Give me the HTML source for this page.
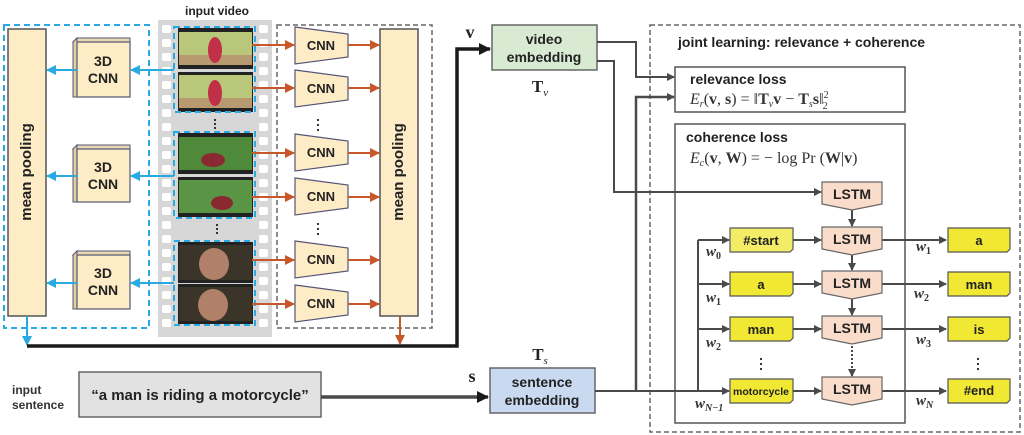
<!DOCTYPE html>
<html><head><meta charset="utf-8"><style>
html,body{margin:0;padding:0;background:#fff;}
svg{display:block;font-family:"Liberation Sans",sans-serif;}
.b{font-weight:bold;}
</style></head><body>
<svg width="1024" height="435" viewBox="0 0 1024 435" xmlns="http://www.w3.org/2000/svg">
<defs>
<marker id="ag" markerWidth="8" markerHeight="8" refX="7" refY="4" orient="auto" markerUnits="userSpaceOnUse"><path d="M0,0 L8,4 L0,8 Z" fill="#4a4a4a"/></marker>
<marker id="ak" markerWidth="12" markerHeight="12" refX="11" refY="6" orient="auto" markerUnits="userSpaceOnUse"><path d="M0,0 L12,6 L0,12 Z" fill="#1a1a1a"/></marker>
<marker id="ao" markerWidth="10" markerHeight="10" refX="9" refY="5" orient="auto" markerUnits="userSpaceOnUse"><path d="M0,0 L10,5 L0,10 Z" fill="#c8582a"/></marker>
<marker id="ac" markerWidth="10" markerHeight="10" refX="9" refY="5" orient="auto" markerUnits="userSpaceOnUse"><path d="M0,0 L10,5 L0,10 Z" fill="#2aaae2"/></marker>
</defs>

<!-- left cyan dashed box -->
<rect x="4" y="25" width="145" height="303" fill="none" stroke="#2aaae2" stroke-width="2" stroke-dasharray="6,4"/>
<rect x="8" y="29" width="38" height="287" fill="#fdecc6" stroke="#555" stroke-width="1.5"/>
<text x="27" y="172" transform="rotate(-90 27 172)" text-anchor="middle" dominant-baseline="middle" class="b" font-size="15" fill="#222">mean pooling</text>

<!-- 3D CNN boxes -->
<g font-size="14" class="b" fill="#222" text-anchor="middle">
<g><path d="M73,42 L77,38 L130,38 L130,42 Z" fill="#e8d9b0" stroke="#557" stroke-width="1"/><path d="M73,42 L77,38 L77,97 L73,97 Z" fill="#e3cf9c" stroke="#557" stroke-width="1"/><rect x="77" y="42" width="53" height="55" fill="#fdecc6" stroke="#557" stroke-width="1.2"/><text x="103" y="66">3D</text><text x="103" y="83">CNN</text></g>
<g><path d="M73,149 L77,145 L130,145 L130,149 Z" fill="#e8d9b0" stroke="#557" stroke-width="1"/><path d="M73,149 L77,145 L77,202 L73,202 Z" fill="#e3cf9c" stroke="#557" stroke-width="1"/><rect x="77" y="149" width="53" height="53" fill="#fdecc6" stroke="#557" stroke-width="1.2"/><text x="103" y="172">3D</text><text x="103" y="189">CNN</text></g>
<g><path d="M73,255 L77,251 L130,251 L130,255 Z" fill="#e8d9b0" stroke="#557" stroke-width="1"/><path d="M73,255 L77,251 L77,309 L73,309 Z" fill="#e3cf9c" stroke="#557" stroke-width="1"/><rect x="77" y="255" width="53" height="54" fill="#fdecc6" stroke="#557" stroke-width="1.2"/><text x="103" y="278">3D</text><text x="103" y="295">CNN</text></g>
</g>

<!-- film strip -->
<text x="217" y="15" text-anchor="middle" class="b" font-size="12" fill="#222">input video</text>
<rect x="158" y="20" width="114" height="317" fill="#d7d7d7"/>
<g fill="#fff">
<rect x="162" y="25" width="9" height="8" rx="2"/><rect x="162" y="39" width="9" height="8" rx="2"/><rect x="162" y="53" width="9" height="8" rx="2"/><rect x="162" y="67" width="9" height="8" rx="2"/><rect x="162" y="81" width="9" height="8" rx="2"/><rect x="162" y="95" width="9" height="8" rx="2"/><rect x="162" y="109" width="9" height="8" rx="2"/><rect x="162" y="123" width="9" height="8" rx="2"/><rect x="162" y="137" width="9" height="8" rx="2"/><rect x="162" y="151" width="9" height="8" rx="2"/><rect x="162" y="165" width="9" height="8" rx="2"/><rect x="162" y="179" width="9" height="8" rx="2"/><rect x="162" y="193" width="9" height="8" rx="2"/><rect x="162" y="207" width="9" height="8" rx="2"/><rect x="162" y="221" width="9" height="8" rx="2"/><rect x="162" y="235" width="9" height="8" rx="2"/><rect x="162" y="249" width="9" height="8" rx="2"/><rect x="162" y="263" width="9" height="8" rx="2"/><rect x="162" y="277" width="9" height="8" rx="2"/><rect x="162" y="291" width="9" height="8" rx="2"/><rect x="162" y="305" width="9" height="8" rx="2"/><rect x="162" y="319" width="9" height="8" rx="2"/>
<rect x="259" y="25" width="9" height="8" rx="2"/><rect x="259" y="39" width="9" height="8" rx="2"/><rect x="259" y="53" width="9" height="8" rx="2"/><rect x="259" y="67" width="9" height="8" rx="2"/><rect x="259" y="81" width="9" height="8" rx="2"/><rect x="259" y="95" width="9" height="8" rx="2"/><rect x="259" y="109" width="9" height="8" rx="2"/><rect x="259" y="123" width="9" height="8" rx="2"/><rect x="259" y="137" width="9" height="8" rx="2"/><rect x="259" y="151" width="9" height="8" rx="2"/><rect x="259" y="165" width="9" height="8" rx="2"/><rect x="259" y="179" width="9" height="8" rx="2"/><rect x="259" y="193" width="9" height="8" rx="2"/><rect x="259" y="207" width="9" height="8" rx="2"/><rect x="259" y="221" width="9" height="8" rx="2"/><rect x="259" y="235" width="9" height="8" rx="2"/><rect x="259" y="249" width="9" height="8" rx="2"/><rect x="259" y="263" width="9" height="8" rx="2"/><rect x="259" y="277" width="9" height="8" rx="2"/><rect x="259" y="291" width="9" height="8" rx="2"/><rect x="259" y="305" width="9" height="8" rx="2"/><rect x="259" y="319" width="9" height="8" rx="2"/>
</g>
<!-- frames -->
<rect x="178" y="28" width="75" height="41" fill="#222"/><rect x="179" y="32" width="73" height="33" fill="#b8c77a"/><rect x="179" y="55" width="73" height="10" fill="#b89a70"/><ellipse cx="215" cy="50" rx="7" ry="13" fill="#c03048"/>
<rect x="178" y="72" width="75" height="40" fill="#222"/><rect x="179" y="75" width="73" height="33" fill="#b8c77a"/><rect x="179" y="98" width="73" height="10" fill="#b89a70"/><ellipse cx="215" cy="93" rx="7" ry="13" fill="#c03048"/>
<rect x="178" y="133" width="75" height="41" fill="#222"/><rect x="179" y="137" width="73" height="33" fill="#4f8a3a"/><ellipse cx="213" cy="160" rx="12" ry="7" fill="#8a2a30"/>
<rect x="178" y="177" width="75" height="40" fill="#222"/><rect x="179" y="180" width="73" height="33" fill="#5a9445"/><ellipse cx="222" cy="203" rx="11" ry="7" fill="#8a2a30"/>
<rect x="178" y="242" width="75" height="41" fill="#222"/><rect x="179" y="245" width="73" height="35" fill="#3a3528"/><ellipse cx="214" cy="264" rx="15" ry="16" fill="#b08068"/>
<rect x="178" y="284" width="75" height="40" fill="#222"/><rect x="179" y="287" width="73" height="34" fill="#3a3528"/><ellipse cx="213" cy="305" rx="15" ry="16" fill="#b08068"/>
<g fill="none" stroke="#2aaae2" stroke-width="2" stroke-dasharray="6,4">
<rect x="174" y="27" width="81" height="85"/><rect x="174" y="132" width="81" height="86"/><rect x="174" y="241" width="81" height="84"/>
</g>
<g fill="#222"><circle cx="215" cy="120" r="1.1"/><circle cx="215" cy="124" r="1.1"/><circle cx="215" cy="128" r="1.1"/><circle cx="217" cy="225" r="1.1"/><circle cx="217" cy="229" r="1.1"/><circle cx="217" cy="233" r="1.1"/></g>

<!-- cyan arrows -->
<g stroke="#2aaae2" stroke-width="2" marker-end="url(#ac)">
<line x1="174" y1="70" x2="131" y2="70"/><line x1="174" y1="176" x2="131" y2="176"/><line x1="174" y1="283" x2="131" y2="283"/>
<line x1="77" y1="70" x2="47" y2="70"/><line x1="77" y1="176" x2="47" y2="176"/><line x1="77" y1="283" x2="47" y2="283"/>
<line x1="27" y1="316" x2="27" y2="345"/>
</g>

<!-- right gray dashed box -->
<rect x="277" y="25" width="155" height="303" fill="none" stroke="#666" stroke-width="1.5" stroke-dasharray="5,3"/>
<g font-size="13" class="b" fill="#222" text-anchor="middle">
<path d="M295,27 L348,34 L348,57 L295,64 Z" fill="#fdecc6" stroke="#557" stroke-width="1.2"/><text x="321" y="50">CNN</text>
<path d="M295,70 L348,77 L348,100 L295,107 Z" fill="#fdecc6" stroke="#557" stroke-width="1.2"/><text x="321" y="93">CNN</text>
<path d="M295,134 L348,141 L348,164 L295,171 Z" fill="#fdecc6" stroke="#557" stroke-width="1.2"/><text x="321" y="157">CNN</text>
<path d="M295,178 L348,185 L348,208 L295,215 Z" fill="#fdecc6" stroke="#557" stroke-width="1.2"/><text x="321" y="201">CNN</text>
<path d="M295,241 L348,248 L348,271 L295,278 Z" fill="#fdecc6" stroke="#557" stroke-width="1.2"/><text x="321" y="264">CNN</text>
<path d="M295,285 L348,292 L348,315 L295,322 Z" fill="#fdecc6" stroke="#557" stroke-width="1.2"/><text x="321" y="308">CNN</text>
</g>
<g fill="#222"><circle cx="318" cy="120" r="1.1"/><circle cx="318" cy="125" r="1.1"/><circle cx="318" cy="130" r="1.1"/><circle cx="318" cy="224" r="1.1"/><circle cx="318" cy="229" r="1.1"/><circle cx="318" cy="234" r="1.1"/></g>
<rect x="380" y="29" width="38" height="287" fill="#fdecc6" stroke="#555" stroke-width="1.5"/>
<text x="399" y="172" transform="rotate(-90 399 172)" text-anchor="middle" dominant-baseline="middle" class="b" font-size="15" fill="#222">mean pooling</text>
<g stroke="#c8582a" stroke-width="2" marker-end="url(#ao)">
<line x1="252" y1="45" x2="294" y2="45"/><line x1="252" y1="88" x2="294" y2="88"/><line x1="252" y1="153" x2="294" y2="153"/><line x1="252" y1="197" x2="294" y2="197"/><line x1="252" y1="260" x2="294" y2="260"/><line x1="252" y1="304" x2="294" y2="304"/>
<line x1="348" y1="45" x2="379" y2="45"/><line x1="348" y1="88" x2="379" y2="88"/><line x1="348" y1="153" x2="379" y2="153"/><line x1="348" y1="197" x2="379" y2="197"/><line x1="348" y1="260" x2="379" y2="260"/><line x1="348" y1="304" x2="379" y2="304"/>
<line x1="400" y1="316" x2="400" y2="344"/>
</g>

<!-- black thick path -->
<path d="M27,346 L457,346 L457,49 L490,49" fill="none" stroke="#1a1a1a" stroke-width="3.5" marker-end="url(#ak)"/>
<text x="470" y="38" font-family="Liberation Serif" font-weight="bold" font-size="18" fill="#222" text-anchor="middle">v</text>

<!-- embeddings -->
<rect x="492" y="25" width="105" height="45" fill="#d9ead3" stroke="#666" stroke-width="1.5"/>
<text x="544" y="44" text-anchor="middle" class="b" font-size="14" fill="#222">video</text>
<text x="544" y="62" text-anchor="middle" class="b" font-size="14" fill="#222">embedding</text>
<text x="540" y="92" font-family="Liberation Serif" font-weight="bold" font-size="17" fill="#222" text-anchor="middle">T<tspan font-size="11" font-style="italic" font-weight="normal" dy="4">v</tspan></text>
<rect x="490" y="368" width="105" height="45" fill="#c9daf0" stroke="#666" stroke-width="1.5"/>
<text x="542" y="387" text-anchor="middle" class="b" font-size="14" fill="#222">sentence</text>
<text x="542" y="405" text-anchor="middle" class="b" font-size="14" fill="#222">embedding</text>
<text x="540" y="360" font-family="Liberation Serif" font-weight="bold" font-size="17" fill="#222" text-anchor="middle">T<tspan font-size="11" font-style="italic" font-weight="normal" dy="4">s</tspan></text>
<text x="472" y="382" font-family="Liberation Serif" font-weight="bold" font-size="18" fill="#222" text-anchor="middle">s</text>

<!-- input sentence -->
<text x="12" y="394" font-size="12" class="b" fill="#333">input</text>
<text x="12" y="409" font-size="12" class="b" fill="#333">sentence</text>
<rect x="79" y="372" width="242" height="45" fill="#e2e2e2" stroke="#666" stroke-width="1.5"/>
<text x="200" y="400" text-anchor="middle" class="b" font-size="15" fill="#222">“a man is riding a motorcycle”</text>
<line x1="321" y1="397" x2="488" y2="397" stroke="#4a4a4a" stroke-width="3.5" marker-end="url(#ak)"/>

<!-- joint box -->
<rect x="650" y="25" width="370" height="407" fill="none" stroke="#666" stroke-width="1.5" stroke-dasharray="5,3"/>
<text x="678" y="47" class="b" font-size="14" fill="#222">joint learning: relevance + coherence</text>
<rect x="675" y="67" width="230" height="45" fill="#fff" stroke="#555" stroke-width="1.5"/>
<text x="690" y="84" class="b" font-size="14" fill="#222">relevance loss</text>
<text x="690" y="104" font-family="Liberation Serif" font-size="16" fill="#333"><tspan font-style="italic">E</tspan><tspan font-size="10" font-style="italic" dy="3">r</tspan><tspan dy="-3">(</tspan><tspan font-weight="bold">v</tspan>, <tspan font-weight="bold">s</tspan>) = ‖<tspan font-weight="bold">T</tspan><tspan font-size="10" font-style="italic" dy="3">v</tspan><tspan font-weight="bold" dy="-3">v</tspan> − <tspan font-weight="bold">T</tspan><tspan font-size="10" font-style="italic" dy="3">s</tspan><tspan font-weight="bold" dy="-3">s</tspan>‖<tspan font-size="10" dy="-6">2</tspan><tspan font-size="10" dx="-6" dy="11">2</tspan></text>

<rect x="675" y="124" width="230" height="299" fill="none" stroke="#555" stroke-width="1.5"/>
<text x="686" y="142" class="b" font-size="14" fill="#222">coherence loss</text>
<text x="690" y="163" font-family="Liberation Serif" font-size="16" fill="#333"><tspan font-style="italic">E</tspan><tspan font-size="10" font-style="italic" dy="3">c</tspan><tspan dy="-3">(</tspan><tspan font-weight="bold">v</tspan>, <tspan font-weight="bold">W</tspan>) = − log Pr (<tspan font-weight="bold">W</tspan>|<tspan font-weight="bold">v</tspan>)</text>

<!-- connectors from embeddings -->
<g fill="none" stroke="#4a4a4a" stroke-width="2">
<path d="M597,42 L636,42 L636,77 L674,77" marker-end="url(#ag)"/>
<path d="M597,61 L614,61 L614,192 L821,192" marker-end="url(#ag)"/>
<path d="M595,391 L698,391"/>
<path d="M636,391 L636,97 L674,97" stroke-width="2.5" marker-end="url(#ag)"/>
<path d="M698,391 L698,240"/>
<path d="M698,240 L729,240" marker-end="url(#ag)"/>
<path d="M698,284 L729,284" marker-end="url(#ag)"/>
<path d="M698,329 L729,329" marker-end="url(#ag)"/>
<path d="M698,391 L729,391" marker-end="url(#ag)"/>
<path d="M793,240 L821,240" marker-end="url(#ag)"/>
<path d="M793,284 L821,284" marker-end="url(#ag)"/>
<path d="M793,329 L821,329" marker-end="url(#ag)"/>
<path d="M793,391 L821,391" marker-end="url(#ag)"/>
<path d="M882,240 L946,240" marker-end="url(#ag)"/>
<path d="M882,284 L946,284" marker-end="url(#ag)"/>
<path d="M882,329 L946,329" marker-end="url(#ag)"/>
<path d="M882,391 L946,391" marker-end="url(#ag)"/>
<path d="M852,208 L852,226" marker-end="url(#ag)"/>
<path d="M852,253 L852,270" marker-end="url(#ag)"/>
<path d="M852,297 L852,315" marker-end="url(#ag)"/>
<path d="M852,342 L852,376" stroke-dasharray="2,2" marker-end="url(#ag)"/>
</g>

<!-- LSTMs -->
<g font-size="14" class="b" fill="#222" text-anchor="middle">
<path d="M822,182 L882,182 L882,204 L852,210 L822,204 Z" fill="#fadccb" stroke="#666" stroke-width="1.2"/><text x="852" y="199">LSTM</text>
<path d="M822,227 L882,227 L882,249 L852,255 L822,249 Z" fill="#fadccb" stroke="#666" stroke-width="1.2"/><text x="852" y="244">LSTM</text>
<path d="M822,271 L882,271 L882,293 L852,299 L822,293 Z" fill="#fadccb" stroke="#666" stroke-width="1.2"/><text x="852" y="288">LSTM</text>
<path d="M822,316 L882,316 L882,338 L852,344 L822,338 Z" fill="#fadccb" stroke="#666" stroke-width="1.2"/><text x="852" y="333">LSTM</text>
<path d="M822,377 L882,377 L882,399 L852,405 L822,399 Z" fill="#fadccb" stroke="#666" stroke-width="1.2"/><text x="852" y="394">LSTM</text>
</g>

<!-- word boxes -->
<g font-size="13" class="b" fill="#222" text-anchor="middle" stroke="#555" stroke-width="1.2">
<path d="M730,228 L793,228 L793,249 L790,252 L730,252 Z" fill="#f2ec66"/>
<path d="M730,272 L793,272 L793,293 L790,296 L730,296 Z" fill="#f0e832"/>
<path d="M730,317 L793,317 L793,338 L790,341 L730,341 Z" fill="#f0e832"/>
<path d="M730,379 L793,379 L793,400 L790,403 L730,403 Z" fill="#f0e832"/>
<path d="M948,228 L1010,228 L1010,249 L1007,252 L948,252 Z" fill="#f0e832"/>
<path d="M948,272 L1010,272 L1010,293 L1007,296 L948,296 Z" fill="#f0e832"/>
<path d="M948,317 L1010,317 L1010,338 L1007,341 L948,341 Z" fill="#f0e832"/>
<path d="M948,379 L1010,379 L1010,400 L1007,403 L948,403 Z" fill="#f0e832"/>
</g>
<g font-size="13" class="b" fill="#222" text-anchor="middle">
<text x="761" y="245">#start</text><text x="761" y="289">a</text><text x="761" y="334">man</text><text x="761" y="395" font-size="10.5">motorcycle</text>
<text x="979" y="245">a</text><text x="979" y="289">man</text><text x="979" y="334">is</text><text x="979" y="395">#end</text>
</g>
<g fill="#222"><circle cx="761" cy="359" r="1.1"/><circle cx="761" cy="364" r="1.1"/><circle cx="761" cy="369" r="1.1"/><circle cx="978" cy="359" r="1.1"/><circle cx="978" cy="364" r="1.1"/><circle cx="978" cy="369" r="1.1"/></g>

<!-- w labels -->
<g font-family="Liberation Serif" font-style="italic" font-weight="bold" font-size="15" fill="#333">
<text x="706" y="256">w<tspan font-size="10" font-style="normal" dy="3">0</tspan></text>
<text x="706" y="302">w<tspan font-size="10" font-style="normal" dy="3">1</tspan></text>
<text x="706" y="347">w<tspan font-size="10" font-style="normal" dy="3">2</tspan></text>
<text x="695" y="408">w<tspan font-size="10" dy="3">N−1</tspan></text>
<text x="916" y="251">w<tspan font-size="10" font-style="normal" dy="3">1</tspan></text>
<text x="914" y="298">w<tspan font-size="10" font-style="normal" dy="3">2</tspan></text>
<text x="916" y="344">w<tspan font-size="10" font-style="normal" dy="3">3</tspan></text>
<text x="916" y="405">w<tspan font-size="10" dy="3">N</tspan></text>
</g>
</svg>
</body></html>
